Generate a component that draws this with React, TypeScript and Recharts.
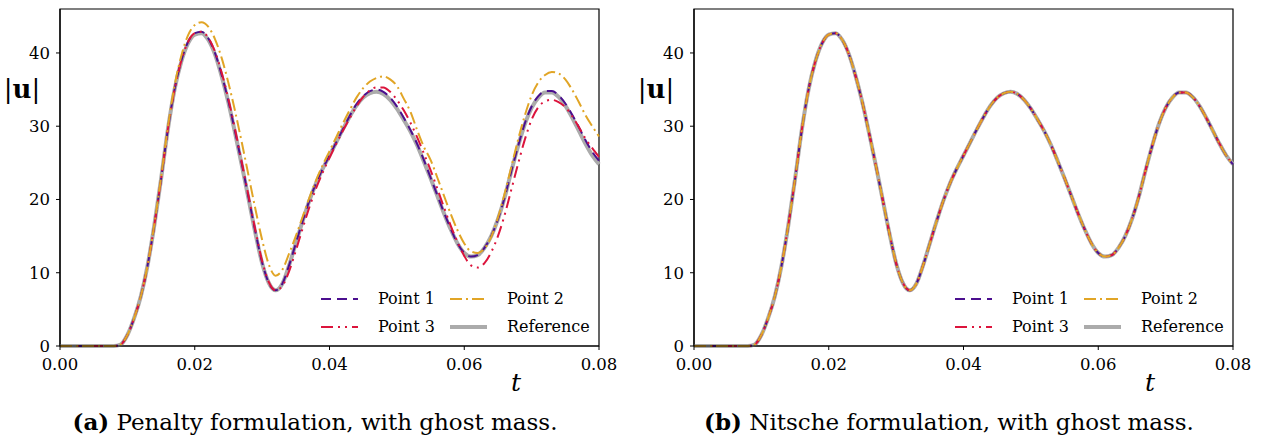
import { LineChart, Line, XAxis, YAxis, ReferenceArea, Legend } from "recharts";

const FONT = "'DejaVu Serif', 'Liberation Serif', serif";

// time axis, s
const tValues = [
  0.000, 0.001, 0.002, 0.003, 0.004, 0.005, 0.006, 0.007, 0.008, 0.009,
  0.010, 0.011, 0.012, 0.013, 0.014, 0.015, 0.016, 0.017, 0.018, 0.019,
  0.020, 0.021, 0.022, 0.023, 0.024, 0.025, 0.026, 0.027, 0.028, 0.029,
  0.030, 0.031, 0.032, 0.033, 0.034, 0.035, 0.036, 0.037, 0.038, 0.039,
  0.040, 0.041, 0.042, 0.043, 0.044, 0.045, 0.046, 0.047, 0.048, 0.049,
  0.050, 0.051, 0.052, 0.053, 0.054, 0.055, 0.056, 0.057, 0.058, 0.059,
  0.060, 0.061, 0.062, 0.063, 0.064, 0.065, 0.066, 0.067, 0.068, 0.069,
  0.070, 0.071, 0.072, 0.073, 0.074, 0.075, 0.076, 0.077, 0.078, 0.079,
  0.080,
];

// |u| of the reference solution
const reference = [
  0, 0, 0, 0, 0, 0, 0, 0, 0, 0.2,
  1.5, 3.8, 6.8, 11.0, 16.5, 22.8, 29.5, 35.0, 38.8, 41.3,
  42.5, 42.7, 41.8, 39.8, 36.8, 33.2, 29.0, 24.6, 20.0, 15.4,
  11.3, 8.6, 7.6, 8.5, 11.0, 14.0, 17.0, 19.8, 22.2, 24.2,
  26.0, 27.8, 29.6, 31.3, 32.8, 33.9, 34.5, 34.7, 34.4, 33.6,
  32.4, 30.9, 29.3, 27.4, 25.2, 22.9, 20.5, 18.1, 15.9, 14.0,
  12.7, 12.2, 12.4, 13.4, 15.0, 17.3, 20.3, 23.9, 27.3, 30.3,
  32.5, 33.9, 34.6, 34.6, 34.0, 32.8, 31.2, 29.4, 27.6, 26.0,
  24.8,
];

// (a) penalty formulation
const penaltyP1 = [
  0, 0, 0, 0, 0, 0, 0, 0, 0, 0.2,
  1.5, 3.8, 6.8, 11.0, 16.5, 22.8, 29.5, 35.0, 38.9, 41.5,
  42.7, 42.9, 42.0, 40.0, 37.0, 33.4, 29.2, 24.8, 20.2, 15.6,
  11.4, 8.6, 7.6, 8.5, 11.0, 14.0, 17.0, 19.8, 22.2, 24.2,
  26.0, 27.8, 29.6, 31.4, 33.0, 34.1, 34.8, 35.0, 34.7, 33.9,
  32.7, 31.2, 29.5, 27.6, 25.4, 23.0, 20.6, 18.2, 16.0, 14.0,
  12.7, 12.2, 12.4, 13.4, 15.0, 17.3, 20.3, 23.9, 27.3, 30.4,
  32.7, 34.1, 34.8, 34.8, 34.2, 33.1, 31.6, 29.9, 28.1, 26.5,
  25.3,
];
const penaltyP2 = [
  0, 0, 0, 0, 0, 0, 0, 0, 0, 0.2,
  1.5, 3.8, 6.8, 11.0, 16.6, 23.0, 29.8, 35.5, 39.6, 42.4,
  43.8, 44.2, 43.6, 41.9, 39.3, 35.9, 32.0, 27.7, 23.2, 18.7,
  14.5, 11.1, 9.6, 10.4, 12.6, 15.0, 17.6, 20.2, 22.6, 24.7,
  26.6, 28.5, 30.4, 32.2, 33.9, 35.2, 36.1, 36.6, 36.8, 36.4,
  35.5, 33.8, 32.0, 29.5, 27.2, 25.4, 23.0, 20.5, 18.0, 15.8,
  14.0, 12.9, 12.7, 13.3, 14.9, 17.5, 20.8, 24.5, 28.2, 31.5,
  34.2, 36.0, 37.0, 37.4, 37.2, 36.4, 35.0, 33.3, 31.5, 30.0,
  28.6,
];
const penaltyP3 = [
  0, 0, 0, 0, 0, 0, 0, 0, 0, 0.2,
  1.5, 3.8, 6.8, 11.0, 16.5, 22.8, 29.5, 35.0, 38.9, 41.5,
  42.7, 42.9, 42.1, 40.2, 37.3, 33.7, 29.5, 25.0, 20.4, 15.8,
  11.6, 8.7, 7.6, 8.2, 10.2, 13.0, 16.0, 18.9, 21.5, 23.7,
  25.7, 27.6, 29.4, 31.1, 32.7, 34.0, 34.9, 35.3, 35.3, 34.7,
  33.6, 32.2, 30.5, 28.5, 26.3, 24.0, 21.5, 18.9, 16.4, 14.2,
  12.3, 11.0, 10.7, 11.3, 12.8, 15.0, 17.9, 21.4, 24.9, 28.2,
  30.9, 32.6, 33.4, 33.6, 33.3, 32.6, 31.4, 29.9, 28.3, 27.0,
  25.8,
];

// (b) nitsche formulation: all three points sit on the reference curve
const nitscheP1 = [...reference];
const nitscheP2 = [...reference];
const nitscheP3 = [...reference];

const xTicks = [0, 0.02, 0.04, 0.06, 0.08];
const yTicks = [0, 10, 20, 30, 40];

const series = [
  { key: "ref", name: "Reference", color: "#ababab", width: 4, dash: undefined },
  { key: "p1", name: "Point 1", color: "#4b0f8f", width: 2, dash: "10 6" },
  { key: "p3", name: "Point 3", color: "#dc143c", width: 2, dash: "12 5 2 5 2 5" },
  { key: "p2", name: "Point 2", color: "#e1a526", width: 2, dash: "12 4 2 4" },
];
const legendOrder = ["p1", "p2", "p3", "ref"];

function buildRows(p1: number[], p2: number[], p3: number[]) {
  return tValues.map((t, i) => ({ t, ref: reference[i], p1: p1[i], p2: p2[i], p3: p3[i] }));
}

const penaltyRows = buildRows(penaltyP1, penaltyP2, penaltyP3);
const nitscheRows = buildRows(nitscheP1, nitscheP2, nitscheP3);

const tickStyle = { fill: "#000", fontSize: 16.5, fontFamily: FONT };

function renderLegend() {
  return (
    <div style={{ position: "relative", width: 280, height: 56, fontFamily: FONT, fontSize: 16, color: "#000" }}>
      {legendOrder.map((k, i) => {
        const s = series.find((x) => x.key === k)!;
        const col = i % 2;
        const row = Math.floor(i / 2);
        return (
          <div key={k} style={{ position: "absolute", left: col * 129, top: row * 28, height: 28, display: "flex", alignItems: "center" }}>
            <svg width={38} height={28} style={{ display: "block" }}>
              <line x1={0} y1={14} x2={37} y2={14} stroke={s.color} strokeWidth={s.width} strokeDasharray={s.dash} />
            </svg>
            <span style={{ marginLeft: 19, lineHeight: "28px", whiteSpace: "nowrap" }}>{s.name}</span>
          </div>
        );
      })}
    </div>
  );
}

function Panel(props: { left: number; rows: any[]; tag: string; caption: string }) {
  return (
    <div style={{ position: "absolute", left: props.left, top: 0, width: 634, height: 442 }}>
      <LineChart width={634} height={400} data={props.rows} margin={{ top: 9, right: 35, bottom: 24, left: 0 }}>
        <XAxis
          dataKey="t"
          type="number"
          domain={[0, 0.08]}
          ticks={xTicks}
          tickFormatter={(v: number) => v.toFixed(2)}
          height={30}
          tickSize={4}
          tickMargin={8}
          axisLine={{ stroke: "#000", strokeWidth: 1.2 }}
          tickLine={{ stroke: "#000", strokeWidth: 1 }}
          tick={tickStyle}
          label={{
            content: () => (
              <text x={516} y={391} textAnchor="middle" fontFamily={FONT} fontStyle="italic" fontSize={25} fill="#000">
                t
              </text>
            ),
          }}
        />
        <YAxis
          type="number"
          domain={[0, 46]}
          ticks={yTicks}
          width={60}
          tickSize={4}
          tickMargin={6}
          axisLine={{ stroke: "#000", strokeWidth: 1.2 }}
          tickLine={{ stroke: "#000", strokeWidth: 1 }}
          tick={tickStyle}
          label={{
            content: () => (
              <text x={22} y={98} textAnchor="middle" fontFamily={FONT} fontSize={26} fill="#000">
                |<tspan fontWeight="bold">u</tspan>|
              </text>
            ),
          }}
        />
        <ReferenceArea x1={0} x2={0.08} y1={0} y2={46} fill="none" stroke="#000" strokeWidth={1.2} ifOverflow="visible" />
        {series.map((s) => (
          <Line
            key={s.key}
            dataKey={s.key}
            name={s.name}
            type="monotone"
            stroke={s.color}
            strokeWidth={s.width}
            strokeDasharray={s.dash}
            dot={false}
            activeDot={false}
            isAnimationActive={false}
          />
        ))}
        <Legend
          layout="horizontal"
          verticalAlign="middle"
          align="center"
          content={renderLegend}
          wrapperStyle={{ left: 321, top: 285, width: 280, height: 56 }}
        />
      </LineChart>
      <div
        style={{
          position: "absolute",
          left: 0,
          top: 408,
          width: 630,
          textAlign: "center",
          fontFamily: FONT,
          fontSize: 23,
          color: "#000",
          whiteSpace: "nowrap",
        }}
      >
        <b>{props.tag}</b> {props.caption}
      </div>
    </div>
  );
}

export default function App() {
  return (
    <div style={{ position: "absolute", left: 0, top: 0, width: 1268, height: 442, background: "#fff", overflow: "hidden" }}>
      <Panel left={0} rows={penaltyRows} tag="(a)" caption="Penalty formulation, with ghost mass." />
      <Panel left={634} rows={nitscheRows} tag="(b)" caption="Nitsche formulation, with ghost mass." />
    </div>
  );
}
